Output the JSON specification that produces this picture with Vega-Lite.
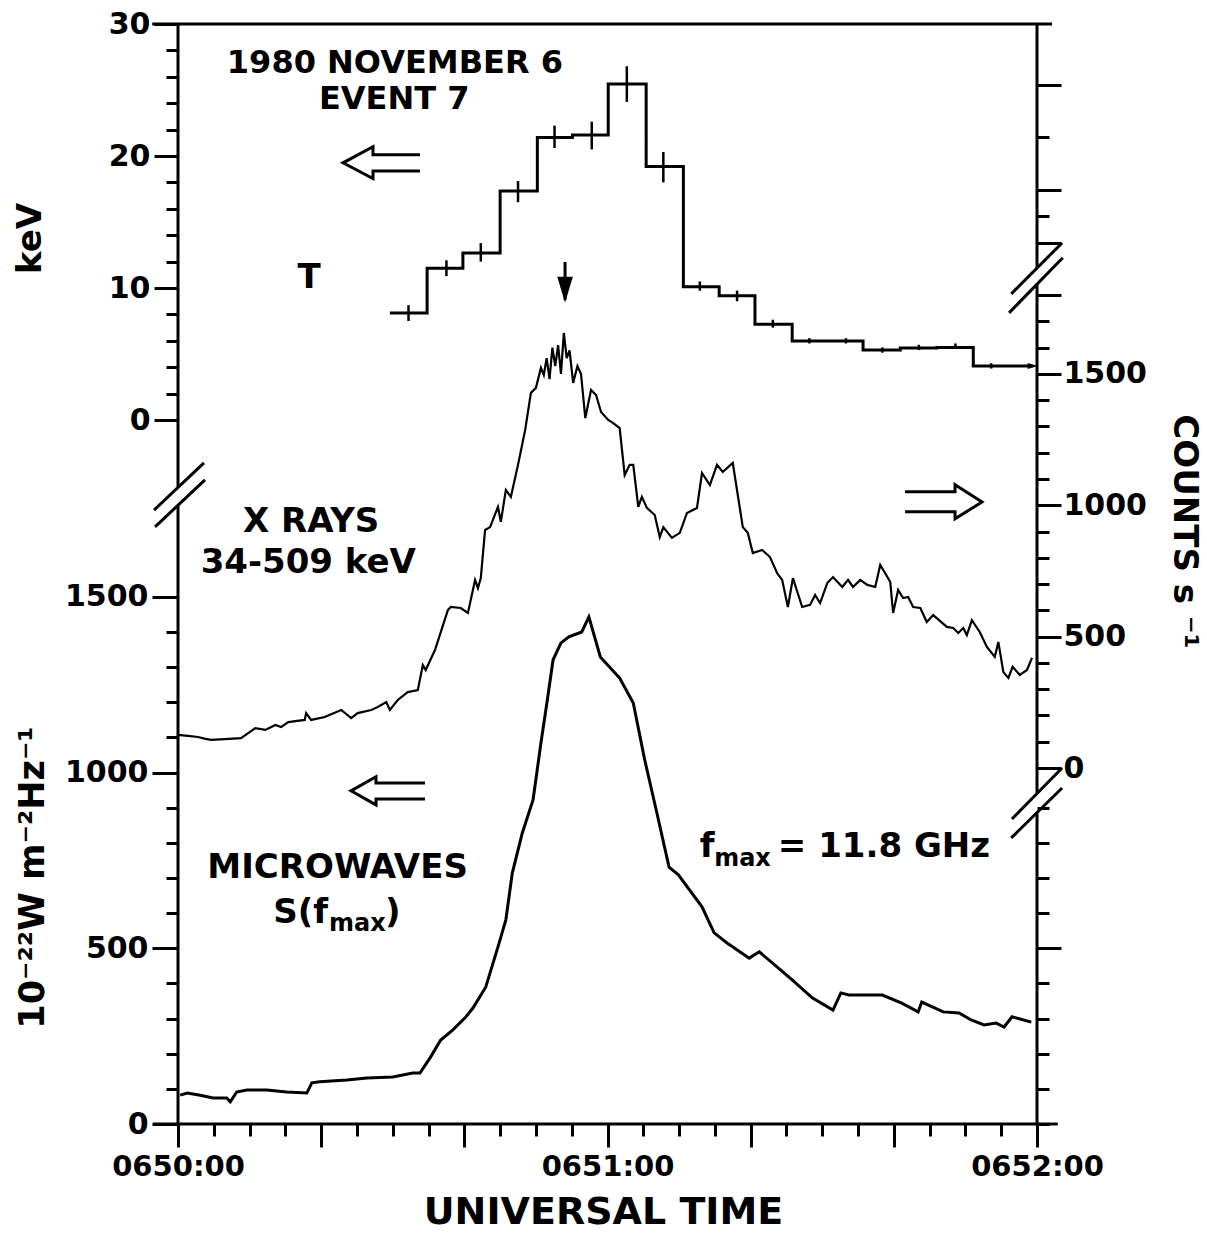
{
  "$schema": "https://vega.github.io/schema/vega-lite/v6.json",
  "width": 859,
  "height": 1100,
  "autosize": {"type": "none"},
  "padding": {"left": 178, "top": 24, "right": 170, "bottom": 113},
  "background": "white",
  "config": {
    "view": {"stroke": null},
    "font": "DejaVu Sans",
    "axis": {
      "domain": false, "grid": false, "tickColor": "black", "tickWidth": 3,
      "labelColor": "black", "labelFont": "DejaVu Sans", "labelFontSize": 30, "labelFontWeight": "bold",
      "titleFont": "DejaVu Sans", "titleColor": "black", "titleFontWeight": "bold",
      "labelFlush": false, "labelOverlap": false, "labelBound": false
    }
  },
  "datasets": {
    "temperature": [
      {"t": 29.6, "kev": 8.1}, {"t": 34.8, "kev": 11.5}, {"t": 39.8, "kev": 12.65}, {"t": 45.0, "kev": 17.35},
      {"t": 50.2, "kev": 21.4}, {"t": 55.1, "kev": 21.6}, {"t": 60.1, "kev": 25.45}, {"t": 65.4, "kev": 19.2},
      {"t": 70.6, "kev": 10.1}, {"t": 75.6, "kev": 9.42}, {"t": 80.6, "kev": 7.25}, {"t": 85.8, "kev": 5.98},
      {"t": 90.8, "kev": 5.98}, {"t": 95.7, "kev": 5.3}, {"t": 100.9, "kev": 5.45}, {"t": 106.0, "kev": 5.5},
      {"t": 111.1, "kev": 4.09}, {"t": 119.4, "kev": 4.09}
    ],
    "terr": [
      {"t": 32.2, "lo": 7.5, "hi": 8.7}, {"t": 37.5, "lo": 10.9, "hi": 12.1}, {"t": 42.3, "lo": 12.0, "hi": 13.4},
      {"t": 47.5, "lo": 16.5, "hi": 18.1}, {"t": 52.6, "lo": 20.6, "hi": 22.3}, {"t": 57.8, "lo": 20.5, "hi": 22.6},
      {"t": 62.7, "lo": 24.1, "hi": 26.8}, {"t": 67.8, "lo": 18.0, "hi": 20.3}, {"t": 72.9, "lo": 9.8, "hi": 10.5},
      {"t": 78.1, "lo": 9.0, "hi": 9.8}, {"t": 83.1, "lo": 7.0, "hi": 7.6}, {"t": 88.2, "lo": 5.8, "hi": 6.2},
      {"t": 93.3, "lo": 5.8, "hi": 6.2}, {"t": 98.4, "lo": 5.1, "hi": 5.5}, {"t": 103.5, "lo": 5.3, "hi": 5.7},
      {"t": 108.6, "lo": 5.4, "hi": 5.8}, {"t": 113.6, "lo": 3.9, "hi": 4.3}
    ],
    "xray": [
      {"t":0,"c":126},{"t":1.4,"c":122},{"t":2.8,"c":118},{"t":3.7,"c":112},{"t":4.6,"c":107},{"t":6.5,"c":110},{"t":8.8,"c":114},
      {"t":10.8,"c":152},{"t":12.2,"c":145},{"t":13.6,"c":164},{"t":14.4,"c":156},{"t":15.4,"c":175},{"t":17.7,"c":183},
      {"t":17.9,"c":209},{"t":18.6,"c":183},{"t":20.5,"c":194},{"t":22.8,"c":221},{"t":24.2,"c":190},{"t":25.1,"c":209},
      {"t":27.0,"c":221},{"t":27.9,"c":232},{"t":29.1,"c":251},{"t":29.6,"c":221},{"t":30.7,"c":259},{"t":32.1,"c":289},
      {"t":33.5,"c":297},{"t":34.2,"c":392},{"t":34.6,"c":373},{"t":35.9,"c":449},{"t":37.7,"c":601},{"t":38.1,"c":613},
      {"t":39.5,"c":609},{"t":40.5,"c":590},{"t":41.5,"c":716},{"t":41.9,"c":685},{"t":42.3,"c":723},{"t":42.9,"c":906},
      {"t":43.6,"c":917},{"t":44.7,"c":994},{"t":45.1,"c":937},{"t":45.8,"c":1058},{"t":46.5,"c":1032},{"t":47.5,"c":1154},
      {"t":48.5,"c":1287},{"t":49.3,"c":1428},{"t":50.0,"c":1447},{"t":50.7,"c":1523},{"t":51.1,"c":1496},{"t":51.5,"c":1560},
      {"t":51.9,"c":1480},{"t":52.3,"c":1600},{"t":52.7,"c":1530},{"t":53.1,"c":1610},{"t":53.5,"c":1500},{"t":53.9,"c":1656},
      {"t":54.3,"c":1560},{"t":54.7,"c":1590},{"t":55.2,"c":1466},{"t":55.8,"c":1530},{"t":56.3,"c":1500},{"t":56.9,"c":1332},
      {"t":57.7,"c":1439},{"t":58.4,"c":1420},{"t":59.1,"c":1355},{"t":60.1,"c":1325},{"t":60.8,"c":1313},{"t":61.7,"c":1294},
      {"t":62.4,"c":1115},{"t":63.1,"c":1154},{"t":63.6,"c":1154},{"t":64.3,"c":994},{"t":64.8,"c":1032},{"t":65.5,"c":990},
      {"t":66.6,"c":963},{"t":67.3,"c":879},{"t":67.8,"c":917},{"t":69.0,"c":876},{"t":70.1,"c":895},{"t":71.1,"c":971},
      {"t":72.5,"c":990},{"t":73.2,"c":1123},{"t":74.3,"c":1077},{"t":75.3,"c":1154},{"t":76.1,"c":1127},{"t":77.5,"c":1161},
      {"t":78.9,"c":917},{"t":79.6,"c":895},{"t":80.3,"c":818},{"t":81.6,"c":830},{"t":82.7,"c":803},{"t":83.7,"c":742},
      {"t":84.4,"c":716},{"t":85.2,"c":613},{"t":85.9,"c":723},{"t":87.2,"c":613},{"t":88.3,"c":621},{"t":89.0,"c":659},
      {"t":89.7,"c":628},{"t":90.7,"c":704},{"t":91.5,"c":727},{"t":92.8,"c":689},{"t":93.6,"c":716},{"t":94.3,"c":689},
      {"t":95.3,"c":716},{"t":96.3,"c":697},{"t":97.4,"c":689},{"t":98.1,"c":773},{"t":99.1,"c":727},{"t":99.5,"c":708},
      {"t":99.9,"c":590},{"t":100.6,"c":678},{"t":101.3,"c":647},{"t":102.0,"c":651},{"t":102.7,"c":613},{"t":103.7,"c":609},
      {"t":104.6,"c":556},{"t":105.5,"c":582},{"t":107.4,"c":537},{"t":108.3,"c":533},{"t":109.0,"c":514},{"t":109.7,"c":533},
      {"t":110.2,"c":506},{"t":110.9,"c":563},{"t":112.0,"c":518},{"t":113.0,"c":461},{"t":114.1,"c":423},{"t":114.6,"c":480},
      {"t":115.3,"c":365},{"t":116.0,"c":343},{"t":116.6,"c":385},{"t":117.6,"c":354},{"t":118.6,"c":373},{"t":119.3,"c":419}
    ],
    "micro": [
      {"t":0.3,"m":82},{"t":1.3,"m":88},{"t":3.1,"m":82},{"t":4.9,"m":74},{"t":6.8,"m":74},{"t":7.3,"m":63},{"t":8.2,"m":91},
      {"t":9.6,"m":97},{"t":12.4,"m":97},{"t":15.2,"m":91},{"t":18.0,"m":88},{"t":18.7,"m":117},{"t":19.8,"m":120},
      {"t":23.6,"m":125},{"t":26.4,"m":131},{"t":30.0,"m":134},{"t":32.8,"m":145},{"t":33.8,"m":145},{"t":35.3,"m":191},
      {"t":36.7,"m":239},{"t":38.4,"m":268},{"t":40.1,"m":302},{"t":41.2,"m":330},{"t":43.0,"m":390},{"t":44.7,"m":504},
      {"t":45.8,"m":581},{"t":46.7,"m":714},{"t":48.1,"m":828},{"t":49.6,"m":922},{"t":50.7,"m":1084},{"t":51.6,"m":1207},
      {"t":52.4,"m":1321},{"t":53.5,"m":1369},{"t":54.6,"m":1386},{"t":56.4,"m":1400},{"t":57.4,"m":1443},{"t":59.0,"m":1329},
      {"t":61.7,"m":1269},{"t":63.6,"m":1198},{"t":65.2,"m":1036},{"t":66.9,"m":885},{"t":68.6,"m":731},{"t":69.9,"m":709},
      {"t":73.2,"m":618},{"t":74.9,"m":544},{"t":76.7,"m":515},{"t":79.8,"m":472},{"t":81.2,"m":490},{"t":85.8,"m":410},
      {"t":88.6,"m":359},{"t":91.5,"m":324},{"t":92.6,"m":373},{"t":93.7,"m":367},{"t":98.4,"m":367},{"t":101.1,"m":344},
      {"t":103.4,"m":319},{"t":103.9,"m":347},{"t":106.9,"m":319},{"t":109.1,"m":316},{"t":110.8,"m":296},{"t":112.6,"m":282},
      {"t":114.3,"m":287},{"t":115.4,"m":276},{"t":116.5,"m":305},{"t":119.2,"m":290}
    ],
    "frame": [
      {"t": -3.6, "t2": 122.1, "v": 3130, "v2": 3130},
      {"t": -3.5, "t2": 122.9, "v": 0, "v2": 0},
      {"t": 0, "t2": 0, "v": 1813, "v2": 3130},
      {"t": 0, "t2": 0, "v": 0, "v2": 1762},
      {"t": 120, "t2": 120, "v": 2436, "v2": 3130},
      {"t": 120, "t2": 120, "v": 941, "v2": 2391},
      {"t": 120, "t2": 120, "v": 0, "v2": 888},
      {"t": -3.35, "t2": 3.63, "v": 1747, "v2": 1881},
      {"t": -3.21, "t2": 3.77, "v": 1699, "v2": 1833},
      {"t": 116.4, "t2": 123.5, "v": 2362, "v2": 2507},
      {"t": 116.1, "t2": 123.6, "v": 2308, "v2": 2465},
      {"t": 116.5, "t2": 123.5, "v": 868, "v2": 1013},
      {"t": 116.4, "t2": 123.5, "v": 814, "v2": 956},
      {"t": 54.07, "t2": 54.07, "v": 2345, "v2": 2453}
    ],
    "arrows": [
      {"id": "a1", "k": 1, "t": 33.8, "v": 2758}, {"id": "a1", "k": 2, "t": 27.24, "v": 2758},
      {"id": "a1", "k": 3, "t": 27.24, "v": 2781}, {"id": "a1", "k": 4, "t": 23.05, "v": 2735},
      {"id": "a1", "k": 5, "t": 27.24, "v": 2690}, {"id": "a1", "k": 6, "t": 27.24, "v": 2712},
      {"id": "a1", "k": 7, "t": 33.8, "v": 2712},
      {"id": "a2", "k": 1, "t": 101.57, "v": 1799}, {"id": "a2", "k": 2, "t": 108.55, "v": 1799},
      {"id": "a2", "k": 3, "t": 108.55, "v": 1819}, {"id": "a2", "k": 4, "t": 112.32, "v": 1770},
      {"id": "a2", "k": 5, "t": 108.55, "v": 1722}, {"id": "a2", "k": 6, "t": 108.55, "v": 1742},
      {"id": "a2", "k": 7, "t": 101.57, "v": 1742},
      {"id": "a3", "k": 1, "t": 34.51, "v": 970}, {"id": "a3", "k": 2, "t": 27.66, "v": 970},
      {"id": "a3", "k": 3, "t": 27.66, "v": 988}, {"id": "a3", "k": 4, "t": 24.17, "v": 948},
      {"id": "a3", "k": 5, "t": 27.66, "v": 908}, {"id": "a3", "k": 6, "t": 27.66, "v": 925},
      {"id": "a3", "k": 7, "t": 34.51, "v": 925}
    ],
    "labelsTitle": [
      {"t": 30.3, "v": 2991, "label": "1980 NOVEMBER 6"},
      {"t": 30.2, "v": 2889, "label": "EVENT 7"}
    ],
    "labelsCenter": [
      {"t": 18.3, "v": 2379, "label": "T"},
      {"t": 18.6, "v": 1685, "label": "X RAYS"},
      {"t": 18.2, "v": 1568, "label": "34-509 keV"},
      {"t": 22.3, "v": 700, "label": "MICROWAVES"}
    ],
    "labelsRight": [
      {"t": 20.96, "v": 572, "label": "S(f"}
    ],
    "labelsLeft": [
      {"t": 28.9, "v": 572, "label": ")"},
      {"t": 72.9, "v": 760, "label": "f"},
      {"t": 83.8, "v": 760, "label": "= 11.8 GHz"}
    ],
    "labelsSub": [
      {"t": 21.1, "v": 549, "label": "max"},
      {"t": 74.9, "v": 734, "label": "max"}
    ],
    "heads": [
      {"t": 54.07, "v": 2374}
    ]
  },
  "resolve": {"scale": {"y": "independent"}, "axis": {"x": "independent", "y": "independent"}},
  "layer": [
    {
      "data": {"name": "frame"},
      "mark": {"type": "rule", "color": "black", "strokeWidth": 3},
      "encoding": {
        "x": {"field": "t", "type": "quantitative", "scale": {"domain": [0, 120], "nice": false, "zero": false},
          "axis": {"orient": "bottom", "values": [0,20,40,60,80,100,120], "tickSize": 23,
            "labelExpr": "datum.value === 0 ? '0650:00' : datum.value === 60 ? '0651:00' : datum.value === 120 ? '0652:00' : ''",
            "labelFontSize": 29, "labelPadding": 5,
            "title": "UNIVERSAL TIME", "titleFontSize": 38, "titleX": 425, "titleY": 99,
            "titleAlign": "center", "titleBaseline": "alphabetic"}},
        "x2": {"field": "t2"},
        "y": {"field": "v", "type": "quantitative", "scale": {"domain": [0, 3130], "nice": false, "zero": false},
          "axis": {"orient": "right", "values": [0,100,200,300,400,500,600,700,800,900],
            "tickSize": {"condition": {"test": "datum.value === 500", "value": 24}, "value": 12},
            "labels": false, "title": null}},
        "y2": {"field": "v2"}
      }
    },
    {
      "data": {"name": "micro"},
      "mark": {"type": "line", "color": "black", "strokeWidth": 3},
      "encoding": {
        "x": {"field": "t", "type": "quantitative", "scale": {"domain": [0, 120], "nice": false, "zero": false},
          "axis": {"orient": "bottom", "values": [5,10,15,25,30,35,45,50,55,65,70,75,85,90,95,105,110,115], "tickSize": 12,
            "labels": false, "title": null}},
        "y": {"field": "m", "type": "quantitative", "scale": {"domain": [0, 3130], "nice": false, "zero": false},
          "axis": {"orient": "left", "values": [0,100,200,300,400,500,600,700,800,900,1000,1100,1200,1300,1400,1500],
            "format": "d",
            "tickSize": {"condition": {"test": "datum.value % 500 === 0", "value": 26}, "value": 12},
            "labelExpr": "datum.value % 500 === 0 ? datum.label : ''", "labelPadding": 4,
            "title": "10⁻²²W m⁻²Hz⁻¹", "titleFontSize": 35, "titleAngle": -90, "titleX": -146, "titleY": 853,
            "titleAlign": "center", "titleBaseline": "middle"}}
      }
    },
    {
      "data": {"name": "xray"},
      "mark": {"type": "line", "color": "black", "strokeWidth": 2.2},
      "encoding": {
        "x": {"field": "t", "type": "quantitative", "scale": {"domain": [0, 120], "nice": false, "zero": false}, "axis": null},
        "y": {"field": "c", "type": "quantitative", "scale": {"domain": [-1355, 2832], "nice": false, "zero": false},
          "axis": {"orient": "right", "values": [0,100,200,300,400,500,600,700,800,900,1000,1100,1200,1300,1400,1500,1600,1700,1800,2000,2100,2200,2400,2600],
            "format": "d",
            "tickSize": {"condition": {"test": "datum.value % 500 === 0 || datum.value === 1800 || datum.value === 2200 || datum.value === 2600", "value": 24}, "value": 12},
            "labelExpr": "datum.value % 500 === 0 && datum.value <= 1500 ? datum.label : ''", "labelPadding": 2,
            "title": "COUNTS  s ⁻¹", "titleFontSize": 34, "titleAngle": 90, "titleX": 146, "titleY": 507,
            "titleAlign": "center", "titleBaseline": "middle"}}
      }
    },
    {
      "data": {"name": "temperature"},
      "mark": {"type": "line", "color": "black", "strokeWidth": 3, "interpolate": "step-after"},
      "encoding": {
        "x": {"field": "t", "type": "quantitative", "scale": {"domain": [0, 120], "nice": false, "zero": false}, "axis": null},
        "y": {"field": "kev", "type": "quantitative", "scale": {"domain": [-53.33, 30], "nice": false, "zero": false},
          "axis": {"orient": "left", "values": [0,2,4,6,8,10,12,14,16,18,20,22,24,26,28,30],
            "format": "d",
            "tickSize": {"condition": {"test": "datum.value % 10 === 0", "value": 24}, "value": 12},
            "labelExpr": "datum.value % 10 === 0 ? datum.label : ''", "labelPadding": 4,
            "title": "keV", "titleFontSize": 34, "titleAngle": -90, "titleX": -148, "titleY": 214,
            "titleAlign": "center", "titleBaseline": "middle"}}
      }
    },
    {
      "data": {"name": "terr"},
      "mark": {"type": "rule", "color": "black", "strokeWidth": 2.5},
      "encoding": {
        "x": {"field": "t", "type": "quantitative", "scale": {"domain": [0, 120], "nice": false, "zero": false}, "axis": null},
        "y": {"field": "lo", "type": "quantitative", "scale": {"domain": [-53.33, 30], "nice": false, "zero": false}, "axis": null},
        "y2": {"field": "hi"}
      }
    },
    {
      "data": {"name": "temperature"},
      "transform": [{"filter": "datum.t > 119"}],
      "mark": {"type": "point", "shape": "M-1,-0.6L1,0L-1,0.6Z", "filled": true, "size": 100, "color": "black", "opacity": 1},
      "encoding": {
        "x": {"field": "t", "type": "quantitative", "scale": {"domain": [0, 120], "nice": false, "zero": false}, "axis": null},
        "y": {"field": "kev", "type": "quantitative", "scale": {"domain": [-53.33, 30], "nice": false, "zero": false}, "axis": null}
      }
    },
    {
      "data": {"name": "arrows"},
      "mark": {"type": "line", "color": "black", "strokeWidth": 3, "strokeJoin": "miter"},
      "encoding": {
        "x": {"field": "t", "type": "quantitative", "scale": {"domain": [0, 120], "nice": false, "zero": false}, "axis": null},
        "y": {"field": "v", "type": "quantitative", "scale": {"domain": [0, 3130], "nice": false, "zero": false}, "axis": null},
        "detail": {"field": "id"},
        "order": {"field": "k"}
      }
    },
    {
      "data": {"name": "heads"},
      "mark": {"type": "point", "shape": "M-0.6,-1L0.6,-1L0,1Z", "filled": true, "size": 676, "color": "black", "opacity": 1},
      "encoding": {
        "x": {"field": "t", "type": "quantitative", "scale": {"domain": [0, 120], "nice": false, "zero": false}, "axis": null},
        "y": {"field": "v", "type": "quantitative", "scale": {"domain": [0, 3130], "nice": false, "zero": false}, "axis": null}
      }
    },
    {
      "data": {"name": "labelsTitle"},
      "mark": {"type": "text", "fontSize": 32, "fontWeight": "bold", "align": "center", "baseline": "alphabetic", "font": "DejaVu Sans", "color": "black"},
      "encoding": {
        "x": {"field": "t", "type": "quantitative", "scale": {"domain": [0, 120], "nice": false, "zero": false}, "axis": null},
        "y": {"field": "v", "type": "quantitative", "scale": {"domain": [0, 3130], "nice": false, "zero": false}, "axis": null},
        "text": {"field": "label"}
      }
    },
    {
      "data": {"name": "labelsCenter"},
      "mark": {"type": "text", "fontSize": 34, "fontWeight": "bold", "align": "center", "baseline": "alphabetic", "font": "DejaVu Sans", "color": "black"},
      "encoding": {
        "x": {"field": "t", "type": "quantitative", "scale": {"domain": [0, 120], "nice": false, "zero": false}, "axis": null},
        "y": {"field": "v", "type": "quantitative", "scale": {"domain": [0, 3130], "nice": false, "zero": false}, "axis": null},
        "text": {"field": "label"}
      }
    },
    {
      "data": {"name": "labelsRight"},
      "mark": {"type": "text", "fontSize": 34, "fontWeight": "bold", "align": "right", "baseline": "alphabetic", "font": "DejaVu Sans", "color": "black"},
      "encoding": {
        "x": {"field": "t", "type": "quantitative", "scale": {"domain": [0, 120], "nice": false, "zero": false}, "axis": null},
        "y": {"field": "v", "type": "quantitative", "scale": {"domain": [0, 3130], "nice": false, "zero": false}, "axis": null},
        "text": {"field": "label"}
      }
    },
    {
      "data": {"name": "labelsLeft"},
      "mark": {"type": "text", "fontSize": 34, "fontWeight": "bold", "align": "left", "baseline": "alphabetic", "font": "DejaVu Sans", "color": "black"},
      "encoding": {
        "x": {"field": "t", "type": "quantitative", "scale": {"domain": [0, 120], "nice": false, "zero": false}, "axis": null},
        "y": {"field": "v", "type": "quantitative", "scale": {"domain": [0, 3130], "nice": false, "zero": false}, "axis": null},
        "text": {"field": "label"}
      }
    },
    {
      "data": {"name": "labelsSub"},
      "mark": {"type": "text", "fontSize": 24, "fontWeight": "bold", "align": "left", "baseline": "alphabetic", "font": "DejaVu Sans", "color": "black"},
      "encoding": {
        "x": {"field": "t", "type": "quantitative", "scale": {"domain": [0, 120], "nice": false, "zero": false}, "axis": null},
        "y": {"field": "v", "type": "quantitative", "scale": {"domain": [0, 3130], "nice": false, "zero": false}, "axis": null},
        "text": {"field": "label"}
      }
    }
  ]
}
